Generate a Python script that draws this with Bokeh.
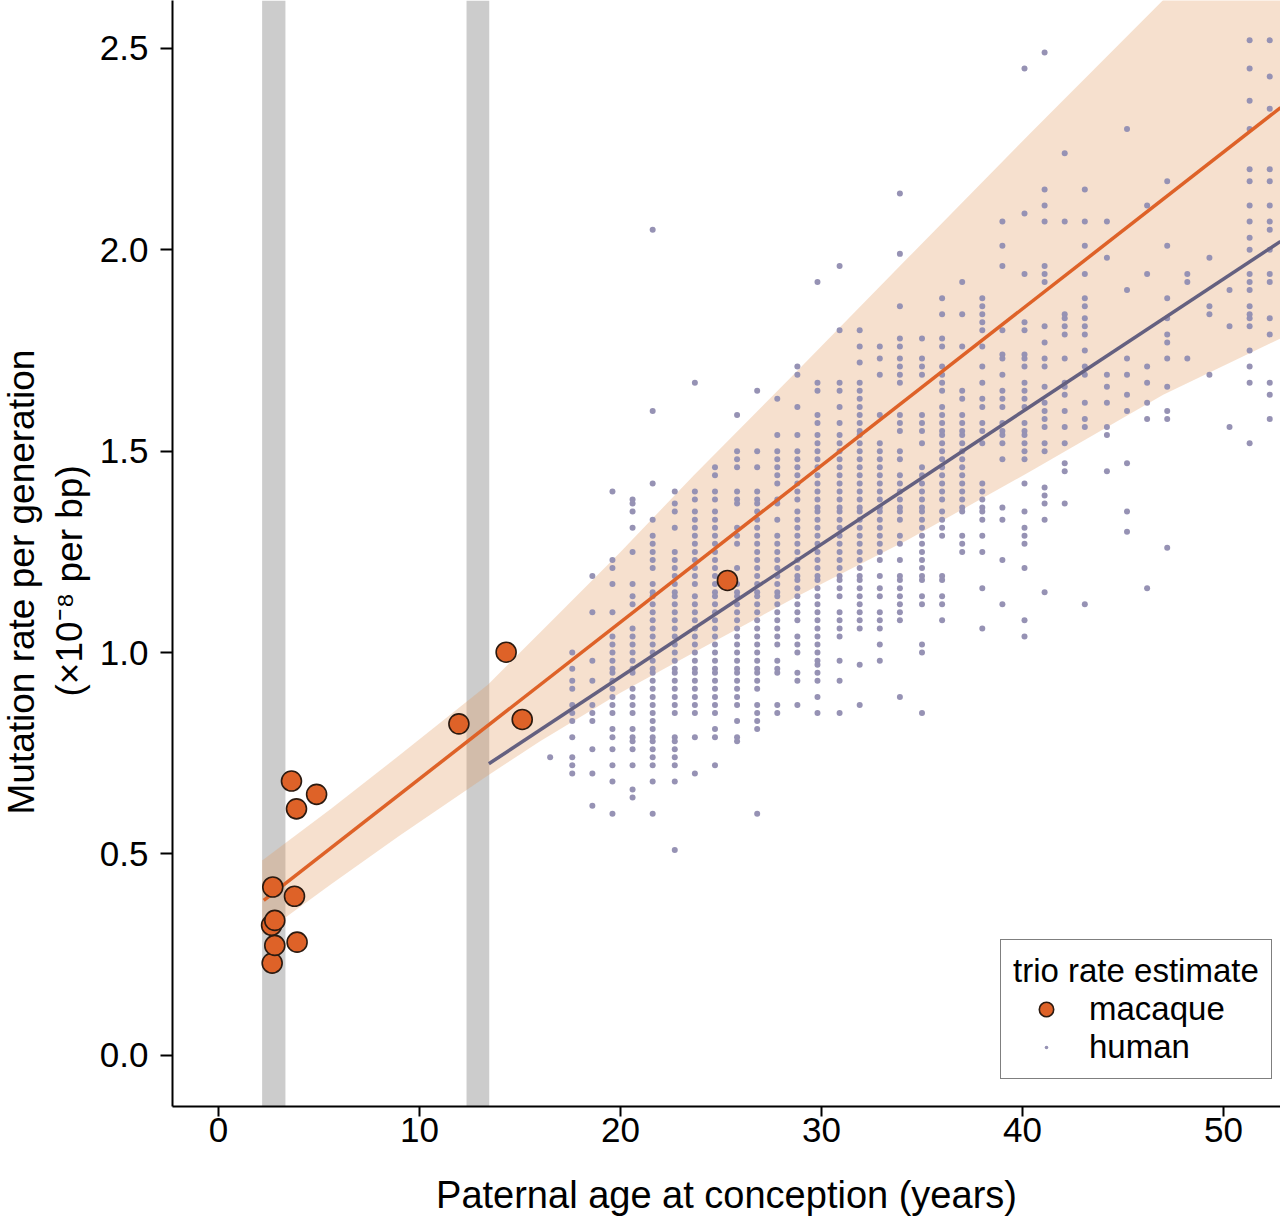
from bokeh.plotting import figure
from bokeh.models import (Range1d, FixedTicker, PrintfTickFormatter, Legend, LegendItem,
                          Title)
from bokeh.embed import file_html
from bokeh.resources import INLINE

# human trio estimates, one list of rates per paternal-age column
human_ages = [16.5, 17.6, 18.6, 19.6, 20.6, 21.6, 22.7, 23.7, 24.7, 25.8, 26.8, 27.8,
              28.8, 29.8, 30.9, 31.9, 32.9, 33.9, 35.0, 36.0, 37.0, 38.0, 39.0, 40.1,
              41.1, 42.1, 43.1, 44.2, 45.2, 46.2, 47.2, 48.2, 49.3, 50.3, 51.3, 52.3]
human_rates = [
    [0.74],
    [1.00, 0.96, 0.93, 0.91, 0.87, 0.85, 0.83, 0.79, 0.74, 0.72, 0.70],
    [1.19, 1.10, 0.98, 0.93, 0.87, 0.85, 0.83, 0.76, 0.70, 0.62],
    [1.40, 1.23, 1.21, 1.17, 1.10, 1.04, 1.02, 1.00, 0.98, 0.96, 0.95, 0.93, 0.91, 0.89,
     0.87, 0.85, 0.81, 0.79, 0.76, 0.72, 0.68, 0.60],
    [1.38, 1.37, 1.35, 1.31, 1.25, 1.17, 1.14, 1.12, 1.06, 1.04, 1.02, 1.00, 0.98, 0.96,
     0.95, 0.91, 0.89, 0.87, 0.85, 0.81, 0.79, 0.78, 0.76, 0.72, 0.66, 0.64],
    [2.05, 1.60, 1.42, 1.33, 1.29, 1.27, 1.25, 1.23, 1.21, 1.17, 1.15, 1.14, 1.12, 1.10,
     1.08, 1.06, 1.04, 1.02, 1.00, 0.98, 0.96, 0.95, 0.93, 0.91, 0.89, 0.87, 0.85, 0.83,
     0.81, 0.79, 0.78, 0.76, 0.74, 0.72, 0.68, 0.60],
    [1.40, 1.37, 1.35, 1.31, 1.25, 1.23, 1.21, 1.19, 1.17, 1.15, 1.14, 1.12, 1.10, 1.08,
     1.06, 1.04, 1.02, 1.00, 0.98, 0.96, 0.95, 0.93, 0.91, 0.89, 0.87, 0.85, 0.79, 0.78,
     0.76, 0.74, 0.72, 0.68, 0.51],
    [1.67, 1.40, 1.38, 1.35, 1.33, 1.31, 1.29, 1.27, 1.25, 1.23, 1.21, 1.19, 1.17, 1.14,
     1.12, 1.10, 1.08, 1.06, 1.04, 1.02, 1.00, 0.98, 0.96, 0.95, 0.93, 0.91, 0.89, 0.87,
     0.85, 0.79, 0.70],
    [1.46, 1.44, 1.40, 1.38, 1.35, 1.33, 1.31, 1.29, 1.27, 1.25, 1.23, 1.21, 1.19, 1.17,
     1.15, 1.14, 1.12, 1.10, 1.08, 1.06, 1.04, 1.02, 1.00, 0.98, 0.96, 0.95, 0.93, 0.91,
     0.89, 0.87, 0.85, 0.81, 0.79, 0.72],
    [1.59, 1.50, 1.48, 1.46, 1.40, 1.38, 1.37, 1.31, 1.29, 1.27, 1.21, 1.17, 1.15, 1.14,
     1.12, 1.10, 1.08, 1.06, 1.04, 1.02, 1.00, 0.98, 0.96, 0.95, 0.93, 0.91, 0.89, 0.87,
     0.83, 0.79, 0.78],
    [1.65, 1.50, 1.46, 1.40, 1.38, 1.37, 1.35, 1.33, 1.31, 1.29, 1.27, 1.25, 1.23, 1.21,
     1.19, 1.17, 1.15, 1.14, 1.12, 1.10, 1.08, 1.06, 1.04, 1.02, 1.00, 0.98, 0.96, 0.95,
     0.93, 0.91, 0.87, 0.85, 0.83, 0.81, 0.60],
    [1.63, 1.54, 1.50, 1.48, 1.46, 1.44, 1.42, 1.38, 1.37, 1.33, 1.29, 1.27, 1.25, 1.23,
     1.21, 1.19, 1.17, 1.15, 1.14, 1.12, 1.10, 1.08, 1.06, 1.04, 1.02, 0.98, 0.96, 0.95,
     0.87, 0.85],
    [1.71, 1.69, 1.61, 1.54, 1.50, 1.48, 1.46, 1.44, 1.42, 1.40, 1.38, 1.35, 1.33, 1.31,
     1.29, 1.27, 1.25, 1.23, 1.21, 1.19, 1.18, 1.16, 1.14, 1.12, 1.10, 1.08, 1.04, 1.02,
     1.00, 0.95, 0.93, 0.87],
    [1.92, 1.67, 1.65, 1.59, 1.57, 1.54, 1.52, 1.50, 1.48, 1.46, 1.44, 1.42, 1.40, 1.38,
     1.36, 1.35, 1.33, 1.31, 1.29, 1.27, 1.25, 1.23, 1.21, 1.19, 1.18, 1.16, 1.14, 1.12,
     1.10, 1.08, 1.06, 1.04, 1.02, 1.00, 0.98, 0.97, 0.95, 0.93, 0.89, 0.85],
    [1.96, 1.80, 1.67, 1.65, 1.61, 1.57, 1.54, 1.52, 1.50, 1.48, 1.46, 1.44, 1.42, 1.40,
     1.38, 1.36, 1.35, 1.33, 1.31, 1.29, 1.27, 1.25, 1.23, 1.21, 1.19, 1.18, 1.16, 1.14,
     1.10, 1.08, 1.06, 1.04, 0.98, 0.93, 0.85],
    [1.80, 1.76, 1.72, 1.67, 1.65, 1.63, 1.61, 1.59, 1.57, 1.55, 1.54, 1.52, 1.50, 1.48,
     1.46, 1.44, 1.42, 1.40, 1.38, 1.36, 1.35, 1.33, 1.31, 1.29, 1.27, 1.25, 1.23, 1.21,
     1.19, 1.18, 1.16, 1.14, 1.12, 1.10, 1.08, 1.06, 0.97, 0.87],
    [1.76, 1.73, 1.69, 1.59, 1.52, 1.50, 1.48, 1.46, 1.44, 1.42, 1.40, 1.38, 1.36, 1.35,
     1.33, 1.31, 1.29, 1.27, 1.25, 1.23, 1.19, 1.16, 1.14, 1.10, 1.08, 1.06, 1.02, 0.98],
    [2.14, 1.99, 1.86, 1.78, 1.76, 1.73, 1.71, 1.69, 1.67, 1.59, 1.57, 1.55, 1.50, 1.48,
     1.44, 1.42, 1.40, 1.38, 1.36, 1.35, 1.33, 1.29, 1.27, 1.23, 1.19, 1.18, 1.16, 1.14,
     1.12, 1.10, 1.08, 0.89],
    [1.78, 1.73, 1.71, 1.69, 1.59, 1.57, 1.55, 1.52, 1.46, 1.44, 1.42, 1.40, 1.38, 1.36,
     1.35, 1.33, 1.31, 1.29, 1.27, 1.25, 1.23, 1.21, 1.19, 1.18, 1.14, 1.12, 1.02, 1.00,
     0.85],
    [1.88, 1.84, 1.78, 1.76, 1.71, 1.69, 1.67, 1.65, 1.61, 1.59, 1.57, 1.55, 1.54, 1.52,
     1.50, 1.48, 1.46, 1.44, 1.42, 1.40, 1.38, 1.35, 1.33, 1.31, 1.29, 1.19, 1.18, 1.14,
     1.12, 1.08],
    [1.92, 1.84, 1.76, 1.65, 1.63, 1.59, 1.57, 1.55, 1.54, 1.52, 1.50, 1.48, 1.46, 1.44,
     1.42, 1.40, 1.38, 1.36, 1.35, 1.29, 1.27, 1.25],
    [1.88, 1.86, 1.84, 1.82, 1.80, 1.76, 1.71, 1.67, 1.63, 1.61, 1.57, 1.55, 1.52, 1.42,
     1.40, 1.38, 1.36, 1.35, 1.33, 1.29, 1.25, 1.16, 1.06],
    [2.07, 2.01, 1.96, 1.80, 1.74, 1.73, 1.69, 1.65, 1.63, 1.61, 1.57, 1.55, 1.54, 1.52,
     1.48, 1.36, 1.33, 1.23, 1.12],
    [2.45, 2.09, 1.94, 1.82, 1.80, 1.74, 1.73, 1.71, 1.67, 1.65, 1.63, 1.61, 1.57, 1.55,
     1.54, 1.52, 1.50, 1.48, 1.42, 1.35, 1.31, 1.29, 1.27, 1.21, 1.08, 1.04],
    [2.49, 2.15, 2.11, 2.07, 1.96, 1.94, 1.92, 1.81, 1.77, 1.73, 1.71, 1.66, 1.62, 1.60,
     1.58, 1.56, 1.52, 1.50, 1.41, 1.39, 1.37, 1.33, 1.15],
    [2.24, 2.07, 1.84, 1.83, 1.81, 1.79, 1.73, 1.67, 1.66, 1.64, 1.60, 1.56, 1.52, 1.47,
     1.45, 1.37],
    [2.15, 2.07, 2.01, 1.94, 1.88, 1.86, 1.83, 1.81, 1.79, 1.75, 1.71, 1.69, 1.62, 1.58,
     1.56, 1.12],
    [2.07, 1.98, 1.69, 1.66, 1.62, 1.56, 1.54, 1.45],
    [2.30, 1.90, 1.73, 1.69, 1.64, 1.60, 1.47, 1.35, 1.30],
    [2.11, 1.94, 1.71, 1.67, 1.62, 1.58, 1.16],
    [2.17, 2.01, 1.88, 1.83, 1.79, 1.77, 1.73, 1.66, 1.60, 1.58, 1.26],
    [1.94, 1.92, 1.73],
    [1.98, 1.86, 1.84, 1.69],
    [1.90, 1.81, 1.56],
    [2.52, 2.45, 2.37, 2.30, 2.20, 2.17, 2.11, 2.07, 2.03, 2.00, 1.94, 1.92, 1.90, 1.86,
     1.84, 1.83, 1.81, 1.75, 1.71, 1.67, 1.52],
    [2.52, 2.43, 2.35, 2.20, 2.17, 2.11, 2.07, 2.05, 2.00, 1.94, 1.92, 1.83, 1.79, 1.67,
     1.64, 1.58],
]

# macaque trios
macaque_age = [2.67, 2.80, 2.64, 2.80, 2.70, 3.91, 3.78, 3.63, 3.88, 4.88,
               11.96, 14.31, 15.11, 25.32]
macaque_rate = [0.229, 0.273, 0.323, 0.335, 0.418, 0.281, 0.395, 0.681, 0.612, 0.648,
                0.823, 1.001, 0.834, 1.179]

# regression lines (ends)
macaque_fit_age = [2.25, 52.84]
macaque_fit_rate = [0.385, 2.353]
human_fit_age = [13.45, 52.84]
human_fit_rate = [0.724, 2.021]

# confidence band around the macaque fit
band_age = [2.17, 5.6, 9.0, 13.4, 16.0, 20.0, 23.65, 28.8, 34.3, 40.4, 47.0, 52.84]
band_hi = [0.484, 0.612, 0.745, 0.92, 1.05, 1.25, 1.44, 1.70, 1.98, 2.29, 2.62, 2.92]
band_lo = [0.30, 0.425, 0.545, 0.695, 0.78, 0.90, 1.00, 1.14, 1.28, 1.45, 1.64, 1.78]

# grey vertical bars
bar_start = [2.17, 12.34]
bar_end = [3.33, 13.47]

FONT = "Liberation Sans"
ORANGE = "#de6228"
HUMAN = "#9692b4"

hx = [a for a, col in zip(human_ages, human_rates) for _ in col]
hy = [r for col in human_rates for r in col]

p = figure(width=1280, height=1219, output_backend="svg", toolbar_location=None,
           x_range=Range1d(-2.289, 52.836), y_range=Range1d(-0.127, 2.619),
           min_border_left=172, min_border_right=0, min_border_top=0,
           min_border_bottom=113)
p.outline_line_color = None
p.grid.visible = False

p.quad(left=bar_start, right=bar_end, bottom=p.y_range.start, top=p.y_range.end,
       fill_color="#cccccc", line_color=None)
p.varea(x=band_age, y1=band_lo, y2=band_hi, fill_color="#e1985c", fill_alpha=0.3)

human_r = p.scatter(hx, hy, marker="dot", size=24, line_color=HUMAN)
p.line(human_fit_age, human_fit_rate, line_color="#646080", line_width=3.5)
p.line(macaque_fit_age, macaque_fit_rate, line_color=ORANGE, line_width=3.5)
mac_r = p.scatter(macaque_age, macaque_rate, size=20, fill_color=ORANGE,
                  line_color="#2b1a10", line_width=1.6)

p.xaxis.ticker = FixedTicker(ticks=[0, 10, 20, 30, 40, 50])
p.yaxis.ticker = FixedTicker(ticks=[0, 0.5, 1.0, 1.5, 2.0, 2.5])
p.yaxis.formatter = PrintfTickFormatter(format="%.1f")

for ax in (p.xaxis, p.yaxis):
    ax.axis_line_width = 2
    ax.major_tick_line_width = 2
    ax.major_tick_in = 0
    ax.minor_tick_line_color = None
    ax.major_label_text_font = FONT
    ax.major_label_text_font_size = "35px"
    ax.major_label_text_color = "black"

p.xaxis.major_tick_out = 10
p.xaxis.major_label_standoff = 1
p.xaxis.axis_label = "Paternal age at conception (years)"
p.xaxis.axis_label_standoff = 29
p.xaxis.axis_label_text_font = FONT
p.xaxis.axis_label_text_font_size = "38px"
p.xaxis.axis_label_text_font_style = "normal"
p.xaxis.axis_label_text_color = "black"

p.yaxis.major_tick_out = 12
p.yaxis.major_label_standoff = 12

# two-line y label, second line nearest the axis
for txt, off, sd in [("(\u00d710\u207b\u2078 per bp)", 410, 10),
                     ("Mutation rate per generation", 292, 0)]:
    t = Title(text=txt, align="left", vertical_align="top", offset=off, standoff=sd,
              text_font=FONT, text_font_size="37px", text_font_style="normal",
              text_color="black")
    p.add_layout(t, "left")

legend = Legend(items=[LegendItem(label="macaque", renderers=[mac_r]),
                       LegendItem(label="human", renderers=[human_r])],
                location=(828, 27), title="trio rate estimate")
legend.title_text_font = FONT
legend.title_text_font_size = "33px"
legend.title_text_font_style = "normal"
legend.title_text_color = "black"
legend.title_standoff = 0
legend.label_text_font = FONT
legend.label_text_font_size = "33px"
legend.label_text_color = "black"
legend.border_line_color = "black"
legend.border_line_width = 1.5
legend.background_fill_alpha = 1
legend.padding = 12
legend.spacing = 0
legend.margin = 0
legend.glyph_width = 66
legend.glyph_height = 36
legend.label_standoff = 10
p.add_layout(legend)

open("out.html", "w").write(file_html(p, INLINE))
